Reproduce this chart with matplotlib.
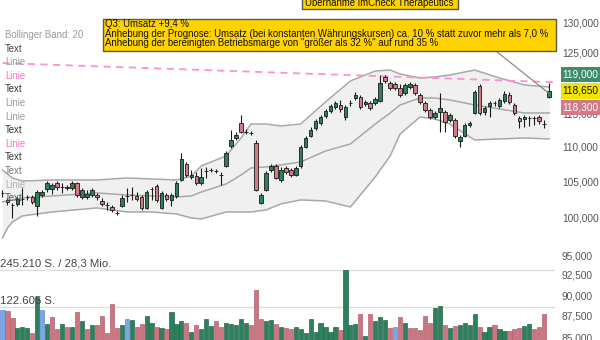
import matplotlib
matplotlib.use('Agg')
import matplotlib.pyplot as plt
from matplotlib.patches import Rectangle
from matplotlib.ticker import FixedLocator, NullLocator

plt.rcParams['font.family'] = ['Liberation Sans', 'DejaVu Sans']

# ---------------- data ----------------
opens = [103320, 102350, 101660, 101800, 102480, 102760, 102760, 101520, 103040, 103880,
         103880, 104720, 104160, 104160, 104020, 104720, 102760, 102760, 103040, 103040,
         102210, 101660, 101380, 100500, 101520, 102900, 103040, 102900, 102760, 101250,
         103880, 104300, 101250, 103040, 102350, 102900, 105150, 107450, 105580, 105720,
         104720, 106430, 106580, 106430, 105860, 107160, 110090, 111290, 113570, 112190,
         112040, 110540, 101930, 103740, 106580, 107160, 105150, 106870, 106580, 105860,
         107160, 109950, 111590, 112800, 113570, 114650, 115420, 116050, 116360, 114490,
         116680, 117470, 117630, 116520, 116680, 116680, 116990, 120850, 119870, 119710,
         119070, 118270, 119230, 119550, 117950, 116680, 115580, 114490, 115270, 115270,
         114030, 114030, 110840, 111590, 113260, 115110, 119390, 115270, 116210, 116600,
         116210, 116990, 117950, 116360, 114340, 114180, 114340, 114260, 114490, 113410,
         117630]
highs = [103740, 102620, 101930, 102760, 104020, 103040, 103040, 103740, 103740, 105000,
         104720, 105000, 104720, 104440, 105000, 104870, 104020, 103740, 104020, 103320,
         102620, 102070, 101660, 100840, 103040, 104020, 104160, 103460, 103040, 103740,
         104160, 104580, 103600, 103320, 103320, 105000, 109060, 107740, 106580, 106290,
         106870, 107010, 106870, 106720, 106290, 109350, 112500, 112190, 114800, 112650,
         112340, 110990, 103320, 106430, 107450, 107450, 107010, 107160, 106870, 107160,
         110240, 111590, 112960, 114180, 114800, 115740, 116520, 116990, 117150, 116360,
         117150, 118420, 117950, 117150, 116990, 117630, 121180, 121180, 120200, 120040,
         119710, 119870, 120040, 119870, 118270, 116990, 115890, 115420, 118270, 115580,
         115110, 114340, 111740, 113570, 113870, 118750, 119710, 116210, 116990, 116990,
         117470, 118590, 118420, 116680, 114650, 114800, 114650, 114650, 114800, 114030,
         119870]
lows = [102760, 101660, 99890, 101520, 101660, 102350, 101800, 100160, 102760, 103460,
        103180, 103740, 103320, 103740, 103740, 102760, 102480, 102480, 102760, 102350,
        101520, 100970, 100700, 100290, 101380, 102070, 102350, 102210, 100970, 101110,
        102350, 102070, 101110, 102210, 101520, 102620, 105000, 105580, 105290, 104440,
        104440, 105430, 106290, 106150, 104440, 107010, 109800, 110990, 112040, 111890,
        111740, 103600, 101800, 103600, 106290, 105290, 104870, 106000, 105580, 105720,
        106870, 109800, 111440, 112500, 113260, 114340, 115110, 115740, 115270, 114030,
        116210, 117150, 115740, 116210, 115580, 116360, 116840, 119870, 118750, 118750,
        117630, 117950, 118910, 117950, 116520, 115270, 114180, 114180, 112190, 112190,
        113720, 111290, 109950, 111440, 112960, 114960, 114800, 114800, 114490, 116210,
        115890, 116680, 116520, 114800, 112800, 112960, 113110, 113260, 113410, 112800,
        117470]
closes = [103320, 102070, 101660, 102480, 102480, 102760, 102070, 103460, 103460, 104720,
          104440, 104160, 104160, 104020, 104720, 103040, 103740, 103180, 103740, 102760,
          101800, 101660, 100970, 100500, 102620, 102900, 103040, 102480, 101250, 103460,
          103880, 102350, 103320, 102480, 103040, 104720, 108170, 105860, 105860, 104720,
          105580, 106430, 106580, 106430, 105860, 109060, 110990, 111740, 112190, 112190,
          112040, 103740, 103040, 106150, 107160, 105430, 106580, 106290, 105860, 106870,
          109950, 111290, 112500, 113870, 114490, 115420, 116210, 116680, 115740, 116050,
          116680, 117950, 116050, 116840, 115890, 117310, 119870, 120200, 119070, 119070,
          117950, 119550, 119710, 118270, 116840, 115580, 114490, 115110, 115890, 113720,
          114800, 111590, 111440, 113260, 113570, 118420, 115110, 115890, 116680, 116600,
          117150, 118110, 116840, 115110, 113870, 114490, 114340, 114260, 113870, 113410,
          118650]
volumes = [113700, 110400, 86400, 53600, 58800, 55600, 37100, 157400, 113700, 66700,
           91700, 51300, 68700, 58800, 58800, 108100, 78600, 51300, 64400, 63400,
           93000, 37100, 133500, 55600, 64000, 84200, 79900, 58800, 66700, 95000,
           70000, 58800, 53600, 50000, 106100, 68000, 76600, 70000, 42400, 64400,
           51300, 83200, 62700, 77600, 57000, 71000, 68000, 64400, 85100, 70000,
           63400, 179500, 84200, 77600, 80900, 66700, 57000, 53600, 51300, 58800,
           51300, 37100, 84200, 40000, 70000, 58800, 40000, 57000, 46500, 245210,
           64400, 66700, 100600, 28300, 99500, 77600, 91700, 80900, 53600, 57000,
           90100, 70000, 53600, 55600, 48000, 93000, 70000, 119300, 126900, 64400,
           55600, 62000, 64400, 72000, 64400, 100000, 58800, 42400, 58800, 64400,
           51300, 44800, 44800, 50000, 55600, 62700, 66700, 50000, 57000, 100000,
           10000]
vol_dir = ["n", "d", "d", "u", "u", "u", "d", "u", "n", "u",
           "d", "d", "u", "d", "u", "d", "u", "d", "u", "d",
           "d", "d", "d", "d", "u", "n", "u", "d", "d", "u",
           "u", "d", "u", "d", "u", "u", "u", "d", "u", "d",
           "u", "u", "u", "d", "d", "u", "u", "u", "u", "u",
           "d", "d", "d", "u", "u", "d", "u", "d", "d", "u",
           "u", "u", "u", "u", "u", "u", "u", "u", "d", "u",
           "u", "u", "d", "u", "d", "u", "u", "u", "d", "n",
           "d", "u", "d", "d", "d", "d", "d", "u", "u", "d",
           "u", "d", "u", "u", "u", "u", "d", "u", "u", "d",
           "u", "u", "d", "d", "d", "u", "u", "d", "d", "d",
           "u"]

bb_idx = [0, 1, 2, 4, 10, 19, 25, 30, 35, 38, 40, 45, 48, 50, 53, 56, 60, 65, 70,
          75, 78, 80, 84, 87, 90, 95, 100, 105, 110]
bb_upper = [106580, 106000, 105430, 105000, 105150, 105150, 105430, 105290, 105150, 105720,
            107160, 108620, 111290, 113410, 113410, 113110, 113410, 116840, 120200,
            121830, 121990, 121340, 120690, 120850, 121180, 121990, 120690, 119550, 119230]
bb_mid = [102070, 102200, 102350, 102620, 102900, 103320, 103040, 102900, 102760, 102900,
          103460, 104580, 105860, 106870, 107010, 107300, 107740, 109350, 110390,
          113410, 115110, 116360, 117470, 117470, 117150, 116360, 115740, 115110, 115110]
bb_lower = [97220, 98540, 99350, 100160, 100700, 101250, 100700, 100700, 100430, 99890,
            99750, 100700, 100700, 100700, 100970, 101800, 102350, 102210, 101380,
            105580, 108620, 111890, 114490, 114180, 113410, 110990, 111140, 111290, 111140]

trend_idx = [0, 111]
trend_val = [123150, 120000]

price_ticks = [85000, 87500, 90000, 92500, 95000, 100000, 105000, 110000,
               115000, 125000, 130000]
price_labels = ["85,000", "87,500", "90,000", "92,500", "95,000", "100,000", "105,000",
                "110,000", "115,000", "125,000", "130,000"]

legend_items = ["Bollinger Band: 20", "Text", "Linie", "Linie", "Text", "Linie", "Linie",
                "Text", "Linie", "Text", "Text", "Linie", "Text"]
legend_colors = ["#9a9a9a", "#444444", "#9a9a9a", "#ff6ec7", "#333333", "#9a9a9a", "#9a9a9a",
                 "#333333", "#ff6ec7", "#333333", "#777777", "#b0b0b0", "#555555"]

note_lines = ["Q3: Umsatz +9,4 %",
              "Anhebung der Prognose: Umsatz (bei konstanten Währungskursen) ca. 10 % statt zuvor mehr als 7,0 %",
              "Anhebung der bereinigten Betriebsmarge von \"größer als 32 %\" auf rund 35 %"]
top_note = "Übernahme ImCheck Therapeutics"
vol_labels = ["245.210 S. / 28,3 Mio.", "122.605 S."]
vol_grid = [245210, 122605]
last_boxes = ["119,000", "118,650", "118,300"]

# ---------------- figure ----------------
W, H = 600, 340
fig = plt.figure(figsize=(6, 3.4), dpi=100)
fig.patch.set_facecolor('white')


def fx(x):
    return x / W


def fy(y):
    return 1 - y / H


ax_w = 555 / W
ax = fig.add_axes([0, 0, ax_w, 1])
ax.set_yscale('log')
ax.set_ylim(84700, 134100)
n = len(closes)
ax.set_xlim(-0.5, 111.17)
for s in ax.spines.values():
    s.set_visible(False)
ax.set_facecolor('none')
ax.xaxis.set_visible(False)
ax.yaxis.tick_right()
ax.yaxis.set_major_locator(FixedLocator(price_ticks))
ax.yaxis.set_minor_locator(NullLocator())
ax.set_yticklabels(price_labels)
ax.tick_params(axis='y', length=0, pad=5, labelsize=7.3, labelcolor='#555555')

# Bollinger band
ax.fill_between(bb_idx, bb_lower, bb_upper, color='#f0f0f0', zorder=1, lw=0)
for arr in (bb_upper, bb_mid, bb_lower):
    ax.plot(bb_idx, arr, color='#a8a8a8', lw=1.1, zorder=2)

# trend line
ax.plot(trend_idx, trend_val, color='#ff8fd0', lw=1.3, ls=(0, (4, 3)), zorder=3,
        clip_on=False)

# candles
up_c, dn_c = '#2e7f5e', '#cf7c87'
xs = list(range(n))
ax.vlines(xs, lows, highs, color='#1a1a1a', lw=0.8, zorder=4)
bottoms = [min(o, c) for o, c in zip(opens, closes)]
heights = [abs(c - o) for o, c in zip(opens, closes)]
cols = [up_c if c > o else (dn_c if c < o else '#1a1a1a') for o, c in zip(opens, closes)]
ax.bar(xs, heights, bottom=bottoms, width=0.72, color=cols, edgecolor='#1a1a1a',
       linewidth=0.6, zorder=5)

# pointer line from annotation
ax.plot([99.1, 109.8], [125300, 118300], color='#8a8a8a', lw=0.9, zorder=6, clip_on=False)

# volume
ax2 = fig.add_axes([0, 0, ax_w, 1], sharex=ax)
ax2.axis('off')
ax2.patch.set_visible(False)
ax2.set_ylim(15120, 1132700)
for g in vol_grid:
    ax2.axhline(g, color='#dcdcdc', lw=0.9, zorder=1)
vcol = {'u': '#2e7f5e', 'd': '#cc7580', 'n': '#7aa6ea'}
vedge = {'u': '#256a4e', 'd': '#b06470', 'n': '#5f8cd0'}
ax2.bar(xs, volumes, width=0.84, color=[vcol[d] for d in vol_dir],
        edgecolor=[vedge[d] for d in vol_dir], linewidth=0.5, zorder=2)

# volume labels
fig.text(fx(0), fy(264), vol_labels[0], fontsize=8.2, color='#444444', va='center', ha='left')
fig.text(fx(0), fy(301), vol_labels[1], fontsize=8.2, color='#444444', va='center', ha='left')

# legend texts on left
for k, (t, c) in enumerate(zip(legend_items, legend_colors)):
    fig.text(fx(5), fy(35 + 13.6 * k), t, fontsize=6.9, color=c, va='center', ha='left')

# annotation box
fig.patches.append(Rectangle((fx(103), fy(51)), (556 - 103) / W, 32 / H,
                             transform=fig.transFigure, facecolor='#ffd200',
                             edgecolor='#5a5a4a', lw=1.0, zorder=3))
for k, t in enumerate(note_lines):
    fig.text(fx(105), fy(24 + 9.6 * k), t, fontsize=6.95, color='#111111', va='center',
             ha='left', zorder=4)

fig.patches.append(Rectangle((fx(302), fy(8.5)), (458 - 302) / W, 15 / H,
                             transform=fig.transFigure, facecolor='#ffd200',
                             edgecolor='#5a5a4a', lw=1.0, zorder=3))
fig.text(fx(305), fy(5.5), top_note, fontsize=6.95, color='#111111', va='baseline',
         ha='left', zorder=4)

# last-price boxes
box_specs = [(66.5, '#3d8c6e', 'white'), (83, '#f2e600', '#111111'), (99.5, '#d07a85', 'white')]
for (y0, fc, tc), t in zip(box_specs, last_boxes):
    fig.patches.append(Rectangle((fx(561), fy(y0 + 15.5)), 39 / W, 15.5 / H,
                                 transform=fig.transFigure, facecolor=fc, edgecolor='none',
                                 zorder=3))
    fig.text(fx(562), fy(y0 + 7.8), t, fontsize=7.3, color=tc, va='center', ha='left',
             zorder=4)

fig.savefig('out.png', dpi=100, facecolor='white')
